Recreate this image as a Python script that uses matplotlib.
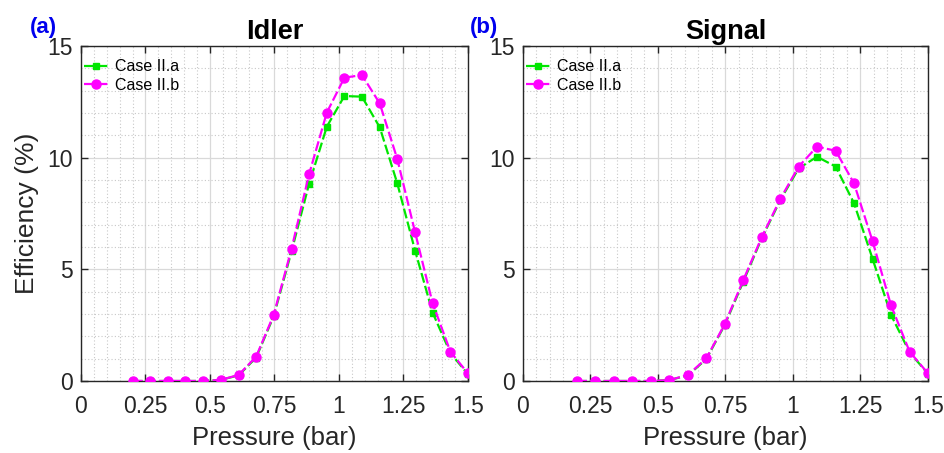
import numpy as np
import matplotlib.pyplot as plt
from matplotlib.ticker import MultipleLocator

plt.rcParams['font.family'] = ['Liberation Sans', 'DejaVu Sans']

# ==============================
# Dades llegides de la figura
# ==============================
pressio = [0.2, 0.268, 0.337, 0.405, 0.474, 0.542, 0.611, 0.679, 0.747, 0.816,
           0.884, 0.953, 1.021, 1.089, 1.158, 1.226, 1.295, 1.363, 1.432, 1.5]

idler_a = [0.0, 0.0, 0.0, 0.0, 0.0, 0.05, 0.25, 1.05, 2.9, 5.8,
           8.82, 11.39, 12.76, 12.73, 11.36, 8.85, 5.84, 3.06, 1.25, 0.3]
idler_b = [0.0, 0.0, 0.0, 0.0, 0.0, 0.05, 0.27, 1.09, 2.96, 5.91,
           9.25, 12.02, 13.58, 13.70, 12.43, 9.94, 6.66, 3.48, 1.31, 0.34]

signal_a = [0.0, 0.0, 0.0, 0.0, 0.0, 0.04, 0.25, 0.98, 2.5, 4.45,
            6.38, 8.1, 9.52, 10.04, 9.60, 7.96, 5.46, 2.96, 1.28, 0.32]
signal_b = [0.0, 0.0, 0.0, 0.0, 0.0, 0.04, 0.27, 1.01, 2.54, 4.52,
            6.43, 8.15, 9.60, 10.49, 10.31, 8.85, 6.25, 3.39, 1.31, 0.34]

titols = ["Idler", "Signal"]
etiquetes = ["(a)", "(b)"]
xticks = [0, 0.25, 0.5, 0.75, 1, 1.25, 1.5]
xtick_labels = ["0", "0.25", "0.5", "0.75", "1", "1.25", "1.5"]
yticks = [0, 5, 10, 15]

verd = '#00e600'
magenta = '#ff00ff'
gris = '#262626'

fig = plt.figure(figsize=(9.45, 4.53), dpi=100)
ax1 = fig.add_axes([0.0857, 0.159, 0.4095, 0.7395])
ax2 = fig.add_axes([0.5534, 0.159, 0.4286, 0.7395])

for ax, ya, yb, titol in zip([ax1, ax2], [idler_a, signal_a], [idler_b, signal_b], titols):
    ax.plot(pressio, ya, '--s', color=verd, lw=1.6, ms=4.5, label='Case II.a', zorder=3,
            dashes=(4.5, 1.5))
    ax.plot(pressio, yb, '--o', color=magenta, lw=1.6, ms=6.5, label='Case II.b', zorder=4,
            dashes=(4.5, 1.5))
    ax.set_xlim(0, 1.5)
    ax.set_ylim(0, 15)
    ax.set_xticks(xticks)
    ax.set_xticklabels(xtick_labels)
    ax.set_yticks(yticks)
    ax.xaxis.set_minor_locator(MultipleLocator(0.05))
    ax.yaxis.set_minor_locator(MultipleLocator(1))
    ax.grid(which='major', color='#d9d9d9', lw=0.9, ls='-')
    ax.grid(which='minor', color='#c8c8c8', lw=0.8, ls=(0, (1, 2)))
    ax.set_axisbelow(True)
    ax.tick_params(which='major', direction='in', length=5, width=1, colors=gris,
                   labelsize=16.5, top=True, right=True)
    ax.tick_params(axis='x', which='major', pad=10)
    ax.tick_params(axis='y', which='major', pad=6)
    ax.tick_params(which='minor', length=0, top=True, right=True)
    for s in ax.spines.values():
        s.set_color(gris)
        s.set_linewidth(1.0)
    ax.set_title(titol, fontsize=19.5, fontweight='bold', pad=5)
    ax.set_xlabel("Pressure (bar)", fontsize=18.5, color=gris, labelpad=6)
    ax.legend(loc='upper left', bbox_to_anchor=(0.008, 0.96), frameon=False,
              fontsize=11.5, handlelength=1.5, handletextpad=0.45,
              borderpad=0, borderaxespad=0, labelspacing=0.22)

ax1.set_ylabel("Efficiency (%)", fontsize=19, color=gris, labelpad=6)

fig.text(30 / 945, 0.962, etiquetes[0], color='#0000ee', fontsize=16,
         fontweight='bold', va='top')
fig.text(470 / 945, 0.962, etiquetes[1], color='#0000ee', fontsize=16,
         fontweight='bold', va='top')

fig.savefig("out.png", dpi=100)
